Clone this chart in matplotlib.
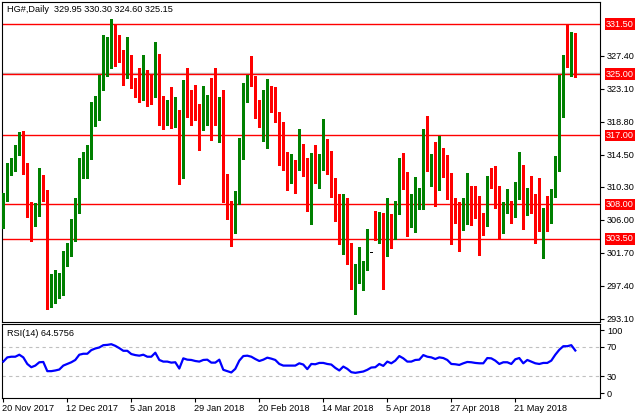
import matplotlib
matplotlib.use("Agg")
import matplotlib.pyplot as plt
import numpy as np

plt.rcParams['font.family'] = ['Liberation Sans', 'DejaVu Sans']

# daily candles (oldest first)
opens = [307.0, 308.8, 312.5, 313.6, 314.6, 317.2, 313.2, 306.9, 306.8, 307.0,
         309.6, 308.7, 294.8, 296.2, 296.2, 298.0, 301.3, 302.2, 305.6, 307.4,
         313.3, 314.4, 314.7, 319.6, 321.4, 324.3, 327.5, 328.2, 330.8, 328.3,
         327.9, 325.7, 325.9, 323.5, 323.0, 322.0, 323.7, 322.6, 322.2, 326.2,
         322.1, 319.0, 320.0, 318.4, 320.0, 311.75, 323.1, 320.5, 320.0, 320.0,
         319.0, 319.7, 321.6, 319.2, 319.0, 321.4, 309.6, 307.8, 304.5, 308.6,
         316.3, 323.6, 324.7, 323.7, 321.4, 318.6, 320.0, 323.5, 320.9, 319.9,
         318.2, 313.0, 312.3, 313.3, 312.9, 315.6, 313.6, 307.8, 314.5, 312.0,
         313.3, 315.0, 312.7, 311.5, 307.6, 303.85, 307.85, 302.3, 297.9, 298.5,
         298.3, 300.0, 301.7, 304.85, 304.2, 306.8, 302.8, 306.7, 304.2, 307.45,
         313.8, 311.4, 306.15, 306.1, 308.3, 308.3, 316.3, 312.6, 313.2, 310.7,
         313.2, 312.75, 311.6, 307.8, 307.0, 305.0, 306.2, 309.15, 308.3, 307.45,
         306.5, 306.1, 311.0, 310.9, 308.8, 305.9, 307.7, 308.3, 306.5, 310.0,
         312.1, 306.9, 310.15, 308.0, 306.8, 305.5, 307.2, 306.4, 309.7, 313.75,
         321.2, 326.8, 326.55, 329.95]
highs = [309.5, 313.4, 314.0, 315.8, 317.5, 317.6, 313.4, 308.3, 308.2, 312.7,
         311.8, 309.9, 298.9, 299.4, 299.1, 301.9, 303.0, 306.1, 308.8, 314.05,
         314.9, 315.8, 321.3, 322.2, 324.9, 330.1, 329.8, 332.15, 331.4, 330.1,
         328.1, 329.9, 327.5, 324.5, 325.8, 327.5, 325.6, 325.0, 329.2, 327.6,
         322.2, 321.6, 323.3, 322.0, 320.3, 324.25, 325.85, 322.9, 323.6, 321.1,
         323.4, 322.3, 324.5, 325.8, 322.0, 322.9, 311.9, 308.4, 309.7, 316.7,
         323.8, 324.9, 327.3, 324.7, 321.6, 322.95, 324.4, 323.5, 323.3, 320.1,
         318.7, 314.8, 314.6, 313.8, 317.9, 315.9, 314.0, 314.7, 315.7, 314.6,
         319.2, 316.5, 315.0, 311.5, 309.4, 309.4, 308.8, 303.0, 300.2, 302.4,
         300.6, 304.85, 301.7, 307.2, 307.0, 306.9, 308.8, 306.7, 308.5, 314.1,
         314.7, 312.2, 309.3, 311.6, 310.2, 317.9, 319.5, 314.6, 316.2, 316.9,
         315.4, 314.4, 312.1, 308.8, 308.3, 308.8, 312.1, 310.45, 310.45, 309.15,
         306.9, 311.75, 312.7, 313.05, 310.4, 308.3, 310.06, 308.5, 310.9, 314.8,
         313.2, 310.2, 311.75, 309.3, 311.4, 307.5, 309.15, 310.0, 314.27, 324.9,
         327.5, 331.5, 330.5, 330.30]
lows = [304.9, 308.4, 311.8, 312.3, 314.5, 312.0, 306.4, 303.2, 305.2, 306.5,
        308.4, 294.3, 294.6, 295.1, 295.8, 296.2, 299.9, 301.3, 303.2, 306.9,
        311.45, 311.5, 313.9, 318.2, 319.0, 322.95, 324.8, 325.8, 326.0, 326.6,
        323.6, 324.5, 323.2, 322.0, 321.3, 321.6, 320.8, 321.1, 322.0, 318.3,
        317.8, 318.3, 317.95, 318.1, 310.7, 311.4, 319.4, 318.4, 319.0, 315.1,
        317.65, 318.4, 316.4, 318.4, 316.1, 308.3, 306.1, 302.55, 304.3, 308.0,
        313.9, 321.3, 323.5, 319.3, 318.1, 316.3, 315.35, 320.1, 318.8, 313.2,
        312.5, 309.9, 310.8, 309.5, 312.5, 311.7, 307.1, 305.4, 310.8, 310.2,
        312.45, 311.9, 309.0, 305.8, 302.8, 301.5, 300.2, 296.9, 293.65, 297.7,
        296.8, 299.4, 301.7, 303.4, 303.0, 297.0, 301.25, 302.25, 303.5, 306.8,
        310.0, 303.9, 305.1, 304.4, 307.45, 307.4, 312.4, 310.4, 307.8, 309.9,
        311.6, 308.7, 302.8, 305.6, 301.9, 304.7, 305.5, 305.3, 306.2, 301.4,
        304.0, 305.15, 310.15, 307.5, 303.55, 304.3, 306.9, 305.6, 306.4, 308.76,
        304.85, 306.6, 306.9, 303.0, 304.5, 301.0, 304.5, 305.6, 309.0, 312.3,
        319.4, 325.9, 324.7, 324.60]
closes = [308.8, 313.0, 313.6, 314.8, 317.0, 313.0, 306.7, 303.4, 307.0, 309.5,
          308.7, 295.1, 296.8, 296.5, 298.0, 301.5, 302.3, 305.7, 307.4, 313.7,
          314.5, 314.8, 319.6, 321.6, 324.7, 327.7, 328.3, 330.7, 329.3, 327.8,
          325.6, 326.0, 323.25, 323.0, 322.1, 323.7, 322.7, 322.1, 326.2, 321.65,
          319.0, 320.1, 318.05, 320.3, 311.9, 323.25, 320.1, 320.0, 319.5, 319.0,
          320.1, 321.6, 318.05, 319.0, 321.5, 309.4, 307.3, 305.0, 308.7, 316.3,
          323.5, 324.6, 323.7, 321.3, 318.5, 320.2, 323.5, 320.8, 319.8, 315.4,
          312.75, 312.5, 313.3, 312.75, 315.7, 313.4, 307.9, 314.3, 312.0, 313.4,
          314.9, 312.45, 310.9, 307.6, 303.7, 307.97, 302.25, 297.4, 298.4, 298.6,
          299.8, 302.0, 301.7, 304.2, 306.5, 302.55, 306.8, 303.6, 307.5, 313.96,
          311.1, 306.0, 306.5, 308.5, 308.8, 316.2, 312.5, 313.5, 310.5, 313.2,
          312.75, 311.3, 304.9, 307.0, 305.15, 306.3, 309.3, 306.9, 307.3, 306.76,
          305.8, 311.1, 310.8, 308.8, 305.8, 307.7, 308.3, 306.15, 310.06, 312.1,
          307.0, 310.0, 307.45, 307.0, 305.7, 307.2, 306.4, 309.15, 313.96, 321.3,
          326.9, 326.4, 330.1, 325.15]

rsi = [49.6, 55.3, 56.2, 56.2, 58.9, 55.3, 46.4, 42.0, 44.2, 48.7,
       49.1, 36.7, 36.7, 37.6, 38.9, 44.2, 46.4, 48.7, 51.8, 58.9,
       60.2, 60.2, 65.1, 67.3, 68.7, 71.8, 72.2, 73.1, 70.9, 67.8,
       64.2, 64.2, 59.8, 58.4, 57.6, 58.9, 56.2, 56.2, 61.6, 51.8,
       49.6, 49.6, 48.2, 48.7, 40.2, 54.0, 52.2, 51.8, 50.4, 49.6,
       51.8, 52.2, 48.2, 48.2, 52.2, 38.5, 36.7, 34.9, 39.8, 50.9,
       57.1, 57.6, 56.2, 53.1, 50.4, 52.2, 54.9, 53.6, 51.8, 46.4,
       44.2, 44.2, 44.2, 44.2, 47.3, 45.6, 39.4, 46.4, 46.0, 47.8,
       47.8, 46.4, 45.6, 41.1, 37.6, 42.9, 39.8, 35.3, 34.4, 35.3,
       36.2, 38.5, 41.6, 42.0, 46.4, 43.8, 49.6, 47.3, 50.9, 57.1,
       54.0, 49.6, 49.6, 51.8, 52.2, 58.4, 56.2, 55.3, 53.1, 55.3,
       54.4, 51.8, 46.4, 46.0, 45.1, 47.3, 49.1, 48.7, 47.8, 47.3,
       47.3, 54.4, 54.0, 50.9, 46.4, 48.7, 48.7, 46.4, 52.7, 54.4,
       47.3, 51.8, 49.6, 47.3, 46.4, 47.8, 47.8, 50.9, 58.9, 65.6,
       70.4, 70.4, 71.8, 64.5756]

date_labels = ['20 Nov 2017', '12 Dec 2017', '5 Jan 2018', '29 Jan 2018',
               '20 Feb 2018', '14 Mar 2018', '5 Apr 2018', '27 Apr 2018',
               '21 May 2018']
label_step = 16

levels = [331.50, 325.00, 317.00, 308.00, 303.50]
price_ticks = [327.40, 323.10, 318.80, 314.50, 310.30, 306.00, 301.70, 297.40, 293.10]
last_price = 325.15

GREEN = '#008000'
RED = '#ff0000'
FS = 6.6

fig = plt.figure(figsize=(6.4, 4.2), dpi=100)
ax = fig.add_axes([2 / 640, 1 - 321.7 / 420, 598 / 640, 319.7 / 420])
ax2 = fig.add_axes([2 / 640, 1 - 398.3 / 420, 598 / 640, 74 / 420], sharex=ax)

o = np.array(opens)
h = np.array(highs)
l = np.array(lows)
c = np.array(closes)
x = np.arange(len(o))
flat = h == l
colors = np.where(flat, 'black', np.where(c >= o, GREEN, RED))

#%% candles
ax.vlines(x[~flat], l[~flat], h[~flat], colors=colors[~flat], lw=0.8, antialiased=False, zorder=3)
bottoms = np.minimum(o, c)
heights = np.maximum(np.abs(c - o), 0.14)
ax.bar(x, heights, bottom=bottoms, width=0.75, color=colors, lw=0, antialiased=False, zorder=4)

for lv in levels:
    ax.axhline(lv, color=RED, lw=1.0, zorder=2)
ax.axhline(last_price, color='#c0c0c0', lw=1.0, zorder=1)

ax.set_xlim(-0.325, -0.325 + 598 / 4)
ax.set_ylim(292.69, 334.41)

ax.yaxis.tick_right()
ax.set_yticks(price_ticks)
ax.set_yticklabels(['%.2f' % p for p in price_ticks], fontsize=FS)
ax.tick_params(axis='y', length=3, width=0.8, pad=2)
ax.tick_params(axis='x', bottom=False, labelbottom=False)
for lv in levels:
    ax.text(1 + 6 / 598, lv, '%.2f' % lv, transform=ax.get_yaxis_transform(),
            fontsize=FS, color='white', va='center', ha='left', clip_on=False, zorder=6,
            bbox=dict(facecolor=RED, edgecolor='none', boxstyle='square,pad=0.15'))

ax.text(5 / 598, 1 - 8 / 319.7, 'HG#,Daily  %.2f %.2f %.2f %.2f' % (opens[-1], highs[-1], lows[-1], closes[-1]),
        transform=ax.transAxes, fontsize=FS, va='center', ha='left')

#%% RSI panel
ax2.plot(x, rsi, color='#0000ff', lw=1.6, zorder=3)
for lv in (70, 30):
    ax2.axhline(lv, color='#c0c0c0', lw=0.8, ls=(0, (3, 3)), zorder=1)
ax2.set_ylim(0, 100)
ax2.yaxis.tick_right()
ax2.set_yticks([92, 70, 30, 7])
ax2.set_yticklabels(['100', '70', '30', '0'], fontsize=FS)
ax2.tick_params(axis='y', length=3, width=0.8, pad=2)
ax2.text(5 / 598, 1 - 9 / 74, 'RSI(14) %.4f' % rsi[-1], transform=ax2.transAxes,
         fontsize=FS, va='center', ha='left')

tick_idx = np.arange(len(date_labels)) * label_step
ax2.set_xticks(tick_idx)
ax2.set_xticklabels([])
ax2.tick_params(axis='x', length=3, width=0.8)
for i, lab in zip(tick_idx, date_labels):
    ax2.text(i - 0.2, -0.135, lab, transform=ax2.get_xaxis_transform(),
             fontsize=FS, va='center', ha='left', clip_on=False)

for a in (ax, ax2):
    for s in a.spines.values():
        s.set_linewidth(0.8)
        s.set_color('black')

fig.savefig('out.png', dpi=100)
